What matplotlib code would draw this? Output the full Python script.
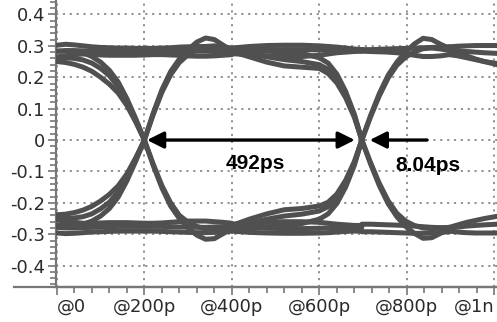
import matplotlib
matplotlib.use("Agg")
import matplotlib.pyplot as plt
from matplotlib.ticker import MultipleLocator
from matplotlib.lines import Line2D

# time base (ps) of each piece of the eye
t_left = [0, 20, 40, 60, 80, 100, 120, 140, 160, 180, 200]
t_edge1 = [200, 220, 240, 260, 280, 300, 320, 340, 360, 380, 400]
t_mid = [400, 440, 480, 520, 560, 600, 620, 640, 660, 680, 697]
t_edge2 = [697, 717, 737, 757, 777, 797, 817, 837, 857, 877, 897]
t_right = [897, 917, 937, 957, 977, 1006]

# --- high rail, 0 .. 200 ps
hi_stay_a = [0.302, 0.305, 0.303, 0.300, 0.297, 0.295, 0.294, 0.293, 0.293, 0.292, 0.292]
hi_stay_b = [0.283, 0.285, 0.285, 0.284, 0.283, 0.282, 0.281, 0.280, 0.280, 0.280, 0.280]
hi_stay_c = [0.265, 0.268, 0.272, 0.274, 0.273, 0.271, 0.270, 0.270, 0.270, 0.270, 0.271]
hi_fall_early = [0.250, 0.247, 0.241, 0.232, 0.219, 0.200, 0.178, 0.150, 0.110, 0.058, 0.000]
hi_fall_mid = [0.262, 0.262, 0.260, 0.255, 0.245, 0.228, 0.205, 0.170, 0.122, 0.064, 0.000]
hi_fall_late = [0.283, 0.283, 0.282, 0.278, 0.266, 0.248, 0.222, 0.185, 0.132, 0.069, 0.000]
# --- low rail, 0 .. 200 ps
lo_stay_a = [-0.296, -0.298, -0.297, -0.295, -0.293, -0.292, -0.291, -0.290, -0.290, -0.290, -0.290]
lo_stay_b = [-0.278, -0.280, -0.280, -0.279, -0.278, -0.277, -0.276, -0.275, -0.275, -0.275, -0.275]
lo_stay_c = [-0.255, -0.258, -0.262, -0.265, -0.265, -0.264, -0.263, -0.263, -0.263, -0.264, -0.265]
lo_rise_early = [-0.238, -0.236, -0.231, -0.223, -0.211, -0.194, -0.173, -0.146, -0.108, -0.057, 0.000]
lo_rise_mid = [-0.250, -0.250, -0.248, -0.244, -0.235, -0.219, -0.198, -0.166, -0.120, -0.063, 0.000]
lo_rise_late = [-0.272, -0.272, -0.271, -0.268, -0.258, -0.242, -0.218, -0.182, -0.130, -0.068, 0.000]

# --- 200 .. 400 ps (after first crossing)
hi_rise_a = [0.000, 0.085, 0.160, 0.218, 0.258, 0.288, 0.312, 0.325, 0.320, 0.302, 0.286]
hi_rise_b = [0.000, 0.080, 0.152, 0.208, 0.247, 0.272, 0.288, 0.298, 0.300, 0.292, 0.282]
hi_stay_a2 = [0.292, 0.292, 0.293, 0.294, 0.296, 0.297, 0.298, 0.298, 0.297, 0.295, 0.293]
hi_stay_b2 = [0.280, 0.280, 0.280, 0.281, 0.282, 0.282, 0.283, 0.283, 0.282, 0.281, 0.280]
hi_stay_c2 = [0.271, 0.272, 0.272, 0.271, 0.270, 0.268, 0.267, 0.267, 0.268, 0.270, 0.272]
lo_fall_a = [0.000, -0.080, -0.152, -0.210, -0.250, -0.280, -0.303, -0.316, -0.314, -0.298, -0.282]
lo_fall_b = [0.000, -0.076, -0.145, -0.200, -0.240, -0.262, -0.275, -0.283, -0.285, -0.280, -0.275]
lo_stay_a2 = [-0.290, -0.290, -0.291, -0.292, -0.293, -0.294, -0.295, -0.295, -0.294, -0.292, -0.290]
lo_stay_b2 = [-0.275, -0.275, -0.275, -0.276, -0.277, -0.277, -0.278, -0.278, -0.277, -0.276, -0.275]
lo_stay_c2 = [-0.265, -0.265, -0.264, -0.262, -0.260, -0.258, -0.258, -0.258, -0.260, -0.262, -0.265]

# --- 400 .. 697 ps
hi_mid_a = [0.293, 0.298, 0.301, 0.302, 0.302, 0.300, 0.298, 0.296, 0.293, 0.290, 0.288]
hi_mid_b = [0.282, 0.285, 0.287, 0.288, 0.288, 0.287, 0.286, 0.285, 0.285, 0.285, 0.285]
hi_mid_c = [0.275, 0.272, 0.268, 0.266, 0.266, 0.270, 0.274, 0.278, 0.280, 0.282, 0.283]
hi_mid_fall_early = [0.282, 0.265, 0.248, 0.236, 0.232, 0.228, 0.212, 0.182, 0.135, 0.072, 0.000]
hi_mid_fall_mid = [0.284, 0.276, 0.265, 0.256, 0.250, 0.240, 0.225, 0.196, 0.146, 0.078, 0.000]
hi_mid_fall_late = [0.286, 0.285, 0.283, 0.280, 0.276, 0.262, 0.245, 0.210, 0.155, 0.082, 0.000]
lo_mid_a = [-0.290, -0.294, -0.296, -0.297, -0.297, -0.296, -0.295, -0.293, -0.291, -0.290, -0.290]
lo_mid_b = [-0.276, -0.279, -0.281, -0.282, -0.282, -0.281, -0.280, -0.279, -0.278, -0.278, -0.278]
lo_mid_c = [-0.268, -0.265, -0.262, -0.260, -0.260, -0.262, -0.265, -0.268, -0.270, -0.272, -0.272]
lo_mid_rise_early = [-0.272, -0.252, -0.235, -0.222, -0.218, -0.210, -0.198, -0.172, -0.128, -0.068, 0.000]
lo_mid_rise_mid = [-0.276, -0.265, -0.252, -0.242, -0.236, -0.226, -0.212, -0.185, -0.138, -0.074, 0.000]
lo_mid_rise_late = [-0.278, -0.278, -0.276, -0.272, -0.266, -0.252, -0.235, -0.202, -0.150, -0.080, 0.000]

# --- 697 .. 897 ps (after second crossing)
hi_rise2_a = [0.000, 0.078, 0.148, 0.206, 0.248, 0.280, 0.306, 0.324, 0.320, 0.305, 0.292]
hi_rise2_b = [0.000, 0.074, 0.141, 0.197, 0.238, 0.264, 0.281, 0.291, 0.293, 0.290, 0.285]
hi_stay3_a = [0.288, 0.288, 0.289, 0.290, 0.291, 0.292, 0.293, 0.294, 0.295, 0.296, 0.297]
hi_stay3_b = [0.283, 0.282, 0.281, 0.280, 0.278, 0.275, 0.270, 0.266, 0.266, 0.268, 0.272]
lo_fall2_a = [0.000, -0.076, -0.145, -0.202, -0.244, -0.275, -0.297, -0.313, -0.311, -0.297, -0.285]
lo_fall2_b = [0.000, -0.072, -0.138, -0.193, -0.233, -0.258, -0.272, -0.280, -0.282, -0.280, -0.278]
lo_stay3_a = [-0.292, -0.292, -0.293, -0.294, -0.295, -0.296, -0.297, -0.297, -0.296, -0.294, -0.292]
lo_stay3_b = [-0.268, -0.268, -0.269, -0.270, -0.271, -0.272, -0.274, -0.276, -0.278, -0.279, -0.280]

# --- 897 .. 1006 ps
hi_right_a = [0.297, 0.299, 0.300, 0.301, 0.301, 0.301]
hi_right_b = [0.288, 0.285, 0.282, 0.280, 0.278, 0.276]
hi_right_c = [0.285, 0.278, 0.268, 0.258, 0.250, 0.240]
hi_right_d = [0.272, 0.268, 0.262, 0.256, 0.250, 0.244]
lo_right_a = [-0.290, -0.293, -0.295, -0.296, -0.296, -0.296]
lo_right_b = [-0.280, -0.277, -0.274, -0.272, -0.270, -0.268]
lo_right_c = [-0.278, -0.270, -0.262, -0.256, -0.250, -0.243]

# axis ticks
x_ticks = [0, 200, 400, 600, 800, 1000]
x_labels = ["@0", "@200p", "@400p", "@600p", "@800p", "@1n"]
y_ticks = [-0.4, -0.3, -0.2, -0.1, 0, 0.1, 0.2, 0.3, 0.4]
y_labels = ["-0.4", "-0.3", "-0.2", "-0.1", "0", "0.1", "0.2", "0.3", "0.4"]

# annotations: crossing points and jitter marker
cross1, cross2 = 206, 681
jitter_tail, jitter_head = 846, 715
eye_width_label = "492ps"
jitter_label = "8.04ps"

pieces = [
    (t_left, hi_stay_a), (t_left, hi_stay_b), (t_left, hi_stay_c),
    (t_left, hi_fall_early), (t_left, hi_fall_mid), (t_left, hi_fall_late),
    (t_left, lo_stay_a), (t_left, lo_stay_b), (t_left, lo_stay_c),
    (t_left, lo_rise_early), (t_left, lo_rise_mid), (t_left, lo_rise_late),
    (t_edge1, hi_rise_a), (t_edge1, hi_rise_b),
    (t_edge1, hi_stay_a2), (t_edge1, hi_stay_b2), (t_edge1, hi_stay_c2),
    (t_edge1, lo_fall_a), (t_edge1, lo_fall_b),
    (t_edge1, lo_stay_a2), (t_edge1, lo_stay_b2), (t_edge1, lo_stay_c2),
    (t_mid, hi_mid_a), (t_mid, hi_mid_b), (t_mid, hi_mid_c),
    (t_mid, hi_mid_fall_early), (t_mid, hi_mid_fall_mid), (t_mid, hi_mid_fall_late),
    (t_mid, lo_mid_a), (t_mid, lo_mid_b), (t_mid, lo_mid_c),
    (t_mid, lo_mid_rise_early), (t_mid, lo_mid_rise_mid), (t_mid, lo_mid_rise_late),
    (t_edge2, hi_rise2_a), (t_edge2, hi_rise2_b),
    (t_edge2, hi_stay3_a), (t_edge2, hi_stay3_b),
    (t_edge2, lo_fall2_a), (t_edge2, lo_fall2_b),
    (t_edge2, lo_stay3_a), (t_edge2, lo_stay3_b),
    (t_right, hi_right_a), (t_right, hi_right_b), (t_right, hi_right_c), (t_right, hi_right_d),
    (t_right, lo_right_a), (t_right, lo_right_b), (t_right, lo_right_c),
]

fig = plt.figure(figsize=(4.97, 3.22), dpi=100)
ax = fig.add_axes([56 / 497, 35 / 322, 441 / 497, 287 / 322])

for t, v in pieces:
    ax.plot(t, v, color="#505050", lw=3.6, solid_joinstyle="round",
            solid_capstyle="round", zorder=3)

ax.set_xlim(-2, 1006)
ax.set_ylim(-0.468, 0.446)

ax.set_xticks(x_ticks)
ax.set_xticklabels(x_labels)
ax.set_yticks(y_ticks)
ax.set_yticklabels(y_labels)
ax.xaxis.set_minor_locator(MultipleLocator(40))
ax.yaxis.set_minor_locator(MultipleLocator(0.02))
ax.tick_params(which="major", length=6, width=1.2, color="#777777",
               labelsize=13, labelcolor="#2a2a2a", pad=2)
ax.tick_params(which="minor", length=4, width=1.2, color="#777777")
# first label starts at its tick, last one ends at the edge of the picture
ax.get_xticklabels()[0].set_horizontalalignment("left")
ax.get_xticklabels()[-1].set_horizontalalignment("right")

ax.grid(True, which="major", color="#8a8a8a", lw=1.3, linestyle=(0, (1.2, 2.6)), zorder=1)
ax.set_axisbelow(True)

for side in ["top", "right"]:
    ax.spines[side].set_visible(False)
for side in ["left", "bottom"]:
    ax.spines[side].set_color("#777777")
    ax.spines[side].set_linewidth(1.6)
# bottom axis line runs past the y axis, as on the scope
fig.add_artist(Line2D([14 / 497, 1], [35 / 322, 35 / 322], color="#777777", lw=1.6))

arrow = dict(arrowstyle="<|-|>,head_length=0.5,head_width=0.25", color="black",
             lw=2.4, shrinkA=0, shrinkB=0, mutation_scale=20)
ax.annotate("", xy=(cross2, 0), xytext=(cross1, 0), arrowprops=arrow, zorder=5)
arrow1 = dict(arrow, arrowstyle="-|>,head_length=0.5,head_width=0.25")
ax.annotate("", xy=(jitter_head, 0), xytext=(jitter_tail, 0), arrowprops=arrow1, zorder=5)

ax.text(453, -0.075, eye_width_label, ha="center", va="center", fontsize=15,
        fontweight="bold", family="Liberation Sans", zorder=6)
ax.text(848, -0.08, jitter_label, ha="center", va="center", fontsize=15,
        fontweight="bold", family="Liberation Sans", zorder=6)

fig.savefig("out.png", dpi=100)
